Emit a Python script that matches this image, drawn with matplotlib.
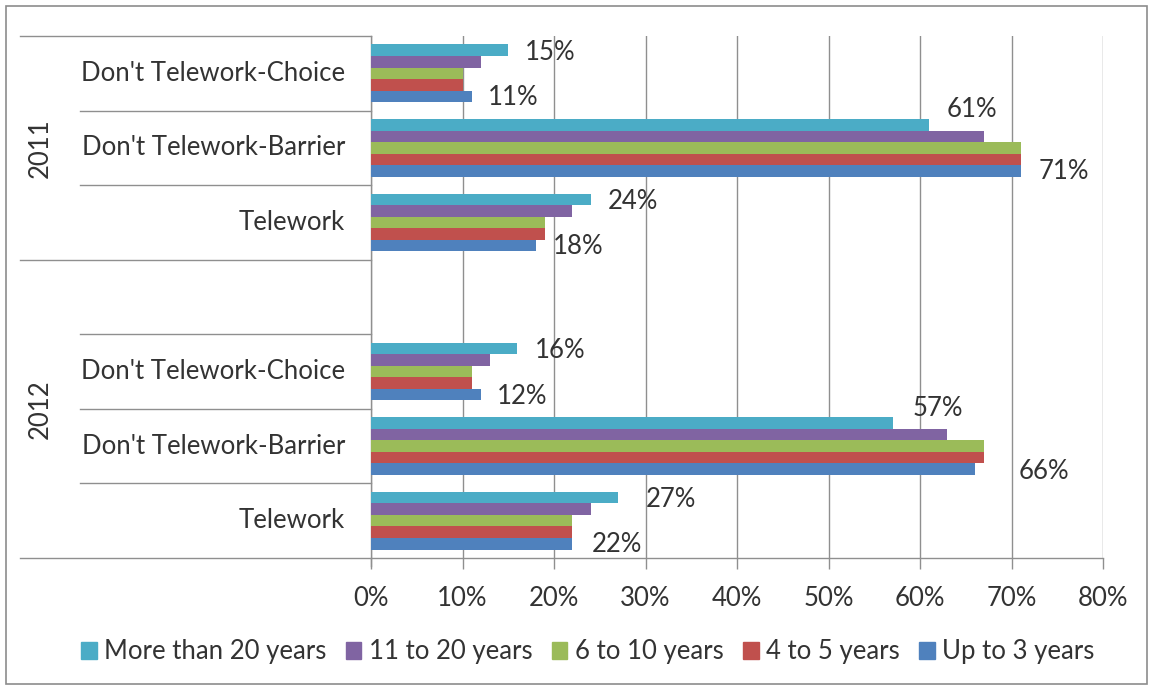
import matplotlib
matplotlib.use("Agg")
import matplotlib.pyplot as plt
from matplotlib.lines import Line2D
from matplotlib.patches import Rectangle
from matplotlib.transforms import blended_transform_factory

# ---- data -------------------------------------------------------------
years = ["2011", "2012"]
categories = ["Don't Telework-Choice", "Don't Telework-Barrier", "Telework"]
series_names = ["More than 20 years", "11 to 20 years", "6 to 10 years",
                "4 to 5 years", "Up to 3 years"]
# order of values: 2011 Choice, 2011 Barrier, 2011 Telework,
#                  2012 Choice, 2012 Barrier, 2012 Telework
more_than_20 = [15, 61, 24, 16, 57, 27]
from_11_to_20 = [12, 67, 22, 13, 63, 24]
from_6_to_10 = [10, 71, 19, 11, 67, 22]
from_4_to_5 = [10, 71, 19, 11, 67, 22]
up_to_3 = [11, 71, 18, 12, 66, 22]
x_ticks = [0, 10, 20, 30, 40, 50, 60, 70, 80]

series_values = [more_than_20, from_11_to_20, from_6_to_10, from_4_to_5, up_to_3]
colors = ["#4BACC6", "#8064A2", "#9BBB59", "#C0504D", "#4F81BD"]

# ---- styling ------------------------------------------------------------
plt.rcParams["font.family"] = ["Lato", "DejaVu Sans"]
TEXT = "#333333"
GRID = "#8f8f8f"
FS = 18.5

W, H = 1154, 690
fig = plt.figure(figsize=(W / 100, H / 100), dpi=100)
fig.patch.set_facecolor("white")

ax_left, ax_right, ax_top, ax_bottom = 371, 1103, 36, 558
ax = fig.add_axes([ax_left / W, 1 - ax_bottom / H,
                   (ax_right - ax_left) / W, (ax_bottom - ax_top) / H])

# slot layout: three categories per year, one empty slot between years
slots = []
for yi in range(len(years)):
    for ci in range(len(categories)):
        slots.append(yi * 4 + ci)
n_slots = 7
bar_h = 0.155

for si, (vals, col) in enumerate(zip(series_values, colors)):
    ypos = [s + (si - 2) * bar_h for s in slots]
    ax.barh(ypos, vals, height=bar_h, color=col, edgecolor="none", zorder=3)

# value labels on the outer series (pixel offsets from bar end)
label_offsets = {
    (0, 0): (17, 2), (0, 1): (17, -15), (0, 2): (17, 2),
    (0, 3): (17, 2), (0, 4): (20, -15), (0, 5): (28, 2),
    (4, 0): (16, 1), (4, 1): (18, 1), (4, 2): (17, 1),
    (4, 3): (16, 2), (4, 4): (44, 2), (4, 5): (19, 1),
}
for (si, k), (dx, dy) in label_offsets.items():
    v = series_values[si][k]
    y = slots[k] + (si - 2) * bar_h
    ax.annotate(f"{v}%", xy=(v, y), xytext=(dx, -dy), textcoords="offset pixels",
                ha="left", va="center", fontsize=FS, color=TEXT, zorder=4)

ax.set_xlim(0, 80)
ax.set_ylim(n_slots - 0.5, -0.5)
ax.set_xticks(x_ticks)
ax.set_xticklabels([f"{t}%" for t in x_ticks], fontsize=FS, color=TEXT)
ax.set_yticks([])
ax.xaxis.grid(True, color=GRID, linewidth=1.0, zorder=0)
ax.tick_params(axis="x", direction="out", length=8, width=1, color=GRID, pad=12)
for side in ["top", "right"]:
    ax.spines[side].set_visible(False)
for side in ["left", "bottom"]:
    ax.spines[side].set_color(GRID)
    ax.spines[side].set_linewidth(1.0)
ax.spines["left"].set_bounds(n_slots - 0.5 + 8 / 74.6, -0.5)

# multi-level category axis drawn to the left of the plot
tr = blended_transform_factory(fig.transFigure, ax.transData)
long_x0, short_x0, axis_x = 20 / W, 80 / W, ax_left / W
for b in [-0.5, 2.5, 6.5]:
    ax.add_line(Line2D([long_x0, axis_x], [b, b], transform=tr, color=GRID,
                       linewidth=1.0, clip_on=False))
for b in [0.5, 1.5, 3.5, 4.5, 5.5]:
    ax.add_line(Line2D([short_x0, axis_x], [b, b], transform=tr, color=GRID,
                       linewidth=1.0, clip_on=False))

for k, s in enumerate(slots):
    ax.text(345 / W, s, categories[k % 3], transform=tr, ha="right", va="center",
            fontsize=FS, color=TEXT)

year_centers = [1.0, 4.5]
for yr, yc in zip(years, year_centers):
    ax.text(40 / W, yc, yr, transform=tr, ha="center", va="center",
            rotation=90, fontsize=FS, color=TEXT)

# legend
handles = [Rectangle((0, 0), 1, 1, color=c) for c in colors]
fig.legend(handles, series_names, loc="center", bbox_to_anchor=(588 / W, 1 - 652 / H),
           ncol=5, frameon=False, fontsize=FS, handlelength=0.6, handleheight=0.6,
           handletextpad=0.3, columnspacing=0.75, labelcolor=TEXT)

# outer chart frame
fig.add_artist(Rectangle((6 / W, 6 / H), (1147 - 6) / W, (684 - 6) / H,
                         transform=fig.transFigure, fill=False,
                         edgecolor="#8c8c8c", linewidth=1.2))

fig.savefig("out.png", dpi=100, facecolor="white")
